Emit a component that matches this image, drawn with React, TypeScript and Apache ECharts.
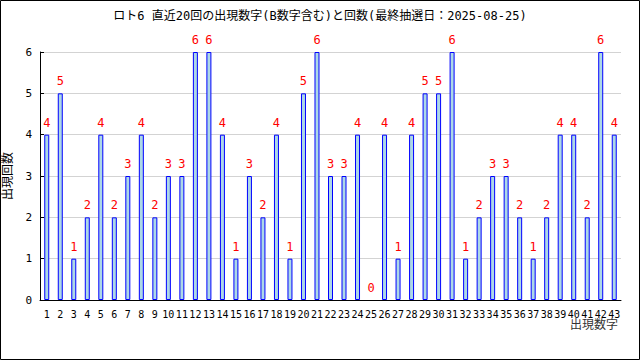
import React, { useEffect, useRef } from "react";
import * as echarts from "echarts";

const titleText = "ロト6 直近20回の出現数字(B数字含む)と回数(最終抽選日：2025-08-25)";
const categories = Array.from({ length: 43 }, (_, i) => String(i + 1));
const counts = [
  4, 5, 1, 2, 4, 2, 3, 4, 2, 3,
  3, 6, 6, 4, 1, 3, 2, 4, 1, 5,
  6, 3, 3, 4, 0, 4, 1, 4, 5, 5,
  6, 1, 2, 3, 3, 2, 1, 2, 4, 4,
  2, 6, 4,
];
const yTicks = [0, 1, 2, 3, 4, 5, 6];

const FONT = "'DejaVu Sans Mono', 'Noto Sans CJK JP', monospace";

export default function App() {
  const ref = useRef<HTMLDivElement>(null);
  useEffect(() => {
    document.body.style.margin = "0";
    const chart = echarts.init(ref.current!, null, { renderer: "svg" });
    chart.setOption({
      animation: false,
      backgroundColor: "#ffffff",
      title: {
        text: titleText,
        left: "center",
        top: 5,
        textStyle: { fontSize: 12, fontWeight: "normal", color: "#000", fontFamily: FONT },
      },
      grid: { left: 40, right: 19, top: 52, bottom: 60, containLabel: false, outerBoundsMode: "none" },
      xAxis: {
        type: "category",
        data: categories,
        axisLine: { lineStyle: { color: "#000" } },
        axisTick: { inside: true, length: 4, lineStyle: { color: "#000" } },
        axisLabel: { interval: 0, fontSize: 10, color: "#000", fontFamily: FONT, margin: 9 },
      },
      yAxis: {
        type: "value",
        min: 0,
        max: yTicks[yTicks.length - 1],
        interval: 1,
        name: "出現回数",
        nameLocation: "middle",
        nameGap: 26,
        nameTextStyle: { fontSize: 12, color: "#000", fontFamily: FONT },
        axisLine: { show: true, lineStyle: { color: "#000" } },
        axisTick: { show: true, inside: true, length: 4, lineStyle: { color: "#000" } },
        axisLabel: { fontSize: 11, color: "#000", fontFamily: FONT, margin: 8 },
        splitLine: { lineStyle: { color: "#d3d3d3" } },
      },
      series: [
        {
          type: "bar",
          data: counts.map((v) => (v === 0 ? { value: v, itemStyle: { borderWidth: 0 } } : v)),
          barWidth: 5,
          itemStyle: { color: "#add8e6", borderColor: "#0000ff", borderWidth: 1 },
          label: {
            show: true,
            position: "top",
            distance: 6,
            color: "#ff0000",
            fontSize: 12,
            fontFamily: FONT,
          },
        },
      ],
      graphic: [
        {
          type: "rect",
          shape: { x: 0.5, y: 0.5, width: 639, height: 359 },
          style: { fill: "none", stroke: "#000", lineWidth: 1 },
          silent: true,
        },
        {
          type: "text",
          right: 22,
          top: 319,
          style: { text: "出現数字", fontSize: 12, fill: "#333", fontFamily: FONT },
        },
      ],
    });
    return () => chart.dispose();
  }, []);
  return <div ref={ref} style={{ width: 640, height: 360 }} />;
}
